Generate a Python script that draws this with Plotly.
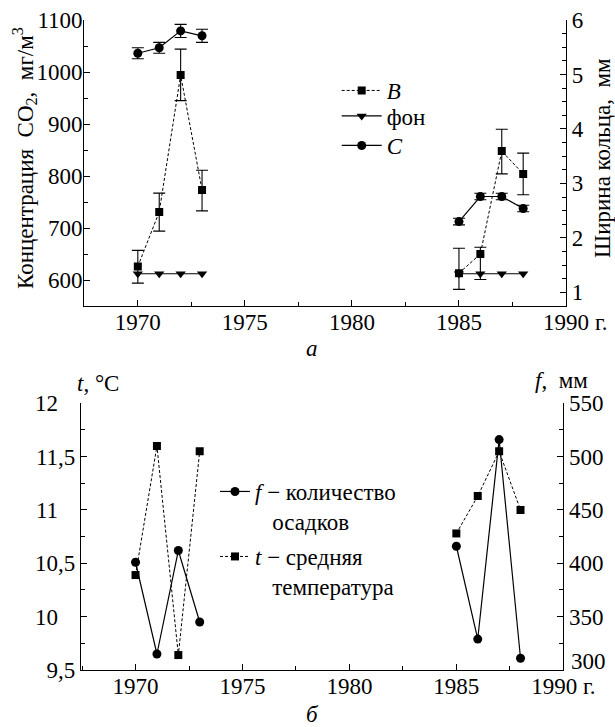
import plotly.graph_objects as go

# ---------------- data ----------------
years = [1970, 1971, 1972, 1973, 1985, 1986, 1987, 1988]

# panel a: CO2 concentration (left axis) and ring width (right axis)
co2_B = [626, 731, 994, 773, 613, 650, 848, 804]
co2_B_err_plus = [31, 36, 50, 38, 48, 13, 42, 40]
co2_B_err_minus = [32, 37, 49, 40, 31, 49, 44, 40]
co2_background = [612, 612, 612, 612, 612, 612, 612, 612]
ring_C = [5.39, 5.49, 5.80, 5.71, 2.30, 2.76, 2.76, 2.54]
ring_C_err = [0.10, 0.10, 0.12, 0.12, 0.06, 0.06, 0.06, 0.06]

# panel b: precipitation f (right axis) and mean temperature t (left axis)
precip_f = [401, 315, 412, 345, 416, 329, 516, 311]
temp_t = [10.39, 11.60, 9.64, 11.55, 10.78, 11.13, 11.55, 11.00]

x_tickvals = [1970, 1975, 1980, 1985, 1990]
x_ticktext_top = ["1970", "1975", "1980", "1985", "1990"]
x_ticktext_bottom = ["1970", "1975", "1980", "1985", "1990 г."]
t_tickvals = [9.5, 10, 10.5, 11, 11.5, 12]
t_ticktext = ["9,5", "10", "10,5", "11", "11,5", "12"]
f_tickvals = [350, 400, 450, 500, 550]
f_bottom_label = "300"

# ---------------- layout helpers ----------------
W, H = 615, 727
FS = 23


def fnt():
    return dict(family="Liberation Serif", size=FS, color="black")


def px_x(p):
    return p / W


def px_y(p):
    return 1 - p / H


def gap(vals):
    return list(vals[:4]) + [None] + list(vals[4:])


def pad_int(lbl):
    # integer labels get an invisible ",5" so that digits line up with the decimal labels
    if "," in lbl:
        return lbl
    return lbl + "<span style='color:white'>,5</span>"


fig = go.Figure()

line_w = 1.2


def err_style():
    return dict(color="black", thickness=1.1, width=6)


# ---- panel a ----
fig.add_trace(go.Scatter(
    x=gap(years), y=gap(co2_B), mode="lines+markers", name="<i>B</i>",
    line=dict(color="black", width=1, dash="3px,2px"),
    marker=dict(symbol="square", size=8, color="black"),
    error_y=dict(type="data", symmetric=False, array=gap(co2_B_err_plus),
                 arrayminus=gap(co2_B_err_minus), **err_style()),
    xaxis="x", yaxis="y", legend="legend", connectgaps=False,
))
fig.add_trace(go.Scatter(
    x=gap(years), y=gap(co2_background), mode="lines+markers", name="фон",
    line=dict(color="black", width=line_w),
    marker=dict(symbol="triangle-down", size=9, color="black"),
    xaxis="x", yaxis="y", legend="legend2", connectgaps=False,
))
fig.add_trace(go.Scatter(
    x=gap(years), y=gap(ring_C), mode="lines+markers", name="<i>C</i>",
    line=dict(color="black", width=line_w),
    marker=dict(symbol="circle", size=9, color="black"),
    error_y=dict(type="data", array=gap(ring_C_err), **err_style()),
    xaxis="x", yaxis="y2", legend="legend3", connectgaps=False,
))

# ---- panel b ----
fig.add_trace(go.Scatter(
    x=gap(years), y=gap(precip_f), mode="lines+markers",
    name="<i>f</i> − количество<br>\u00a0\u00a0\u00a0осадков",
    line=dict(color="black", width=line_w),
    marker=dict(symbol="circle", size=9, color="black"),
    xaxis="x2", yaxis="y4", legend="legend4", connectgaps=False,
))
fig.add_trace(go.Scatter(
    x=gap(years), y=gap(temp_t), mode="lines+markers",
    name="<i>t</i> − средняя<br>\u00a0\u00a0\u00a0температура",
    line=dict(color="black", width=1, dash="3px,2px"),
    marker=dict(symbol="square", size=8, color="black"),
    xaxis="x2", yaxis="y3", legend="legend5", connectgaps=False,
))


def axis_common():
    return dict(
        showgrid=False, zeroline=False, showline=True, linecolor="black", linewidth=1.2,
        ticks="inside", ticklen=6, tickwidth=1.1, tickcolor="black",
        tickfont=fnt(), automargin=False,
    )


top_dom_x = [px_x(84.3), px_x(566)]
top_dom_y = [px_y(306), px_y(20)]
bot_dom_x = [px_x(81), px_x(563.3)]
bot_dom_y = [px_y(670), px_y(403.3)]


def minor(t0, dt):
    return dict(tickmode="linear", tick0=t0, dtick=dt, ticks="inside", ticklen=4, tickcolor="black")


fig.update_layout(
    width=W, height=H,
    margin=dict(l=0, r=0, t=0, b=0),
    paper_bgcolor="white", plot_bgcolor="white",
    font=fnt(),
    xaxis=dict(domain=top_dom_x, range=[1967.5, 1990], anchor="y",
               tickmode="array", tickvals=x_tickvals, ticktext=x_ticktext_top,
               ticklabelstandoff=-5, minor=minor(1967.5, 2.5), **axis_common()),
    yaxis=dict(domain=top_dom_y, range=[550, 1100], anchor="x",
               tickmode="linear", tick0=600, dtick=100,
               ticklabelstandoff=-4, minor=minor(550, 50), **axis_common()),
    yaxis2=dict(range=[0.75, 6], anchor="x", overlaying="y", side="right",
                tickmode="linear", tick0=1, dtick=1,
                minor=minor(0, 0.25), **axis_common()),
    xaxis2=dict(domain=bot_dom_x, range=[1967.45, 1990], anchor="y3",
                tickmode="array", tickvals=x_tickvals, ticktext=x_ticktext_bottom,
                ticklabelstandoff=-5, minor=minor(1967.5, 2.5), **axis_common()),
    yaxis3=dict(domain=bot_dom_y, range=[9.5, 12], anchor="x2",
                tickmode="array", tickvals=t_tickvals,
                ticktext=[pad_int(s) for s in t_ticktext],
                minor=minor(9.5, 0.25), **axis_common()),
    yaxis4=dict(range=[300, 550], anchor="x2", overlaying="y3", side="right",
                tickmode="array", tickvals=f_tickvals,
                minor=minor(300, 25), **axis_common()),
    showlegend=True,
)


def leg(x, y, iw):
    return dict(x=px_x(x), y=px_y(y), itemwidth=iw, bgcolor="rgba(0,0,0,0)", borderwidth=0,
                font=fnt(), xanchor="left", yanchor="top", valign="top")


fig.update_layout(
    legend=leg(336.7, 90 - 21, 40),
    legend2=leg(336.7, 117.5 - 23, 40),
    legend3=leg(336.7, 145 - 21, 40),
    legend4=leg(215, 493 - 23, 30),
    legend5=leg(215, 558 - 23, 30),
)


def ann(text, x, y, xanchor="center", angle=0):
    return dict(text=text, x=px_x(x), y=px_y(y), xref="paper", yref="paper",
                showarrow=False, xanchor=xanchor, yanchor="middle", textangle=angle, font=fnt())


annotations = [
    ann("Концентрация\u00a0 CO<sub>2</sub>,\u00a0 мг/м<sup>3</sup>", 24, 158, angle=-90),
    ann("Ширина кольца,\u00a0 мм", 602, 158, angle=-90),
    ann("г.", 593, 322, xanchor="left"),
    ann("<i>а</i>", 312, 349),
    ann("<i>t</i>, °C", 75, 383, xanchor="left"),
    ann("<i>f</i>,\u00a0 мм", 533, 381, xanchor="left"),
    ann(f_bottom_label, 569, 661, xanchor="left"),
    ann("<i>б</i>", 312, 714),
]
fig.update_layout(annotations=annotations)

fig.write_html("out.html", post_script="document.body.style.margin='0px';",
               config=dict(displayModeBar=False))
